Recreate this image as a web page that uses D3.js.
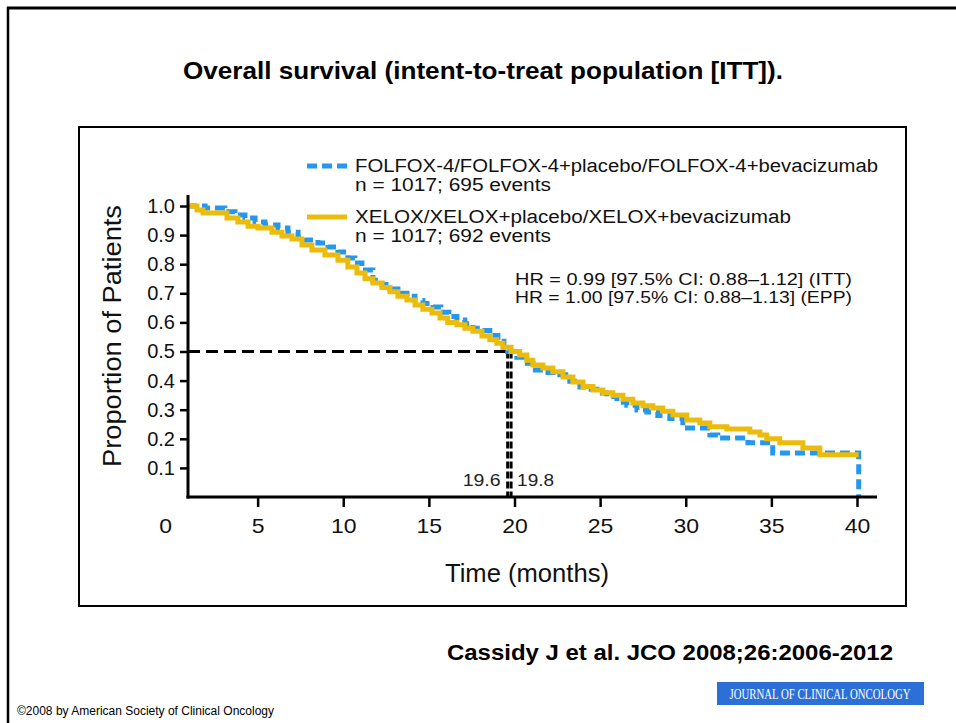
<!DOCTYPE html>
<html>
<head>
<meta charset="utf-8">
<script src="https://cdn.jsdelivr.net/npm/d3@7"></script>
<style>
  body { margin: 0; background: #fff; }
  svg { display: block; }
</style>
</head>
<body>
<svg id="chart" width="956" height="723"></svg>
<script>
// Kaplan-Meier steps: [months, proportion surviving]
var folfoxSteps = [
  [0, 1.0], [1.93, 0.993], [3.09, 0.98], [3.68, 0.969], [4.26, 0.959], [4.85, 0.945],
  [5.43, 0.935], [6.19, 0.924], [6.77, 0.91], [7.36, 0.893], [7.76, 0.883], [8.52, 0.873],
  [9.11, 0.859], [9.69, 0.842], [10.27, 0.821], [10.68, 0.804], [11.09, 0.78], [11.73, 0.745],
  [12.26, 0.73], [12.73, 0.715], [13.19, 0.70], [13.72, 0.69], [14.19, 0.675], [14.65, 0.665],
  [15.24, 0.653], [15.7, 0.635], [16.17, 0.62], [16.64, 0.608], [17.1, 0.595], [17.57, 0.58],
  [18.04, 0.572], [18.56, 0.555], [19.03, 0.535], [19.38, 0.515], [19.6, 0.5], [20.14, 0.48],
  [20.6, 0.46], [21.07, 0.436], [21.78, 0.428], [22.65, 0.42], [23.23, 0.398], [23.82, 0.378],
  [24.28, 0.37], [24.81, 0.357], [25.39, 0.345], [25.98, 0.326], [26.56, 0.315], [27.15, 0.299],
  [27.73, 0.292], [28.37, 0.28], [29.07, 0.27], [29.83, 0.237], [31.41, 0.213], [31.87, 0.203],
  [33.63, 0.186], [35.08, 0.151], [40.1, 0.151], [40.1, 0]
];
var xeloxSteps = [
  [0, 1.0], [1.46, 0.986], [1.81, 0.976], [3.21, 0.959], [3.85, 0.945], [4.44, 0.93],
  [5.02, 0.924], [5.84, 0.91], [6.42, 0.897], [7.01, 0.887], [7.59, 0.866], [8.17, 0.849],
  [8.93, 0.832], [9.69, 0.814], [10.27, 0.79], [10.8, 0.77], [11.27, 0.75], [11.73, 0.735],
  [12.26, 0.72], [12.73, 0.705], [13.19, 0.69], [13.72, 0.677], [14.19, 0.66], [14.65, 0.645],
  [15.18, 0.632], [15.65, 0.615], [16.1, 0.60], [16.64, 0.592], [17.1, 0.58], [17.57, 0.57],
  [18.1, 0.553], [18.56, 0.54], [18.97, 0.528], [19.32, 0.515], [19.8, 0.5], [20.3, 0.488],
  [20.72, 0.47], [21.07, 0.454], [21.66, 0.443], [22.24, 0.43], [22.83, 0.412], [23.41, 0.395],
  [24.0, 0.38], [24.58, 0.368], [25.16, 0.358], [25.74, 0.35], [26.33, 0.336], [26.91, 0.323],
  [27.5, 0.314], [28.08, 0.306], [28.66, 0.295], [29.25, 0.282], [30.06, 0.265], [30.82, 0.254],
  [31.41, 0.241], [32.4, 0.234], [33.74, 0.223], [34.33, 0.213], [34.73, 0.20], [35.49, 0.186],
  [36.84, 0.168], [37.83, 0.145], [40.1, 0.145]
];
var medians = [19.6, 19.8];
var xTicks = [0, 5, 10, 15, 20, 25, 30, 35, 40];
var yTicks = [0.1, 0.2, 0.3, 0.4, 0.5, 0.6, 0.7, 0.8, 0.9, 1.0];
var legendLabels = [
  ["FOLFOX-4/FOLFOX-4+placebo/FOLFOX-4+bevacizumab", "n = 1017; 695 events"],
  ["XELOX/XELOX+placebo/XELOX+bevacizumab", "n = 1017; 692 events"]
];
var hrLabels = [
  "HR = 0.99 [97.5% CI: 0.88\u20131.12] (ITT)",
  "HR = 1.00 [97.5% CI: 0.88\u20131.13] (EPP)"
];

var BLUE = '#2597ee', GOLD = '#ecbc0c';
var SANS = 'Liberation Sans, Arial, Helvetica, sans-serif';

// the source slide is a bit stretched sideways, so long labels get their measured widths
function stretched(sel, width) {
  return sel.attr('textLength', width).attr('lengthAdjust', 'spacingAndGlyphs');
}

var svg = d3.select('#chart');

// page frame (top and left rule only)
svg.append('line').attr('x1', 7).attr('x2', 956).attr('y1', 8).attr('y2', 8)
  .attr('stroke', '#000').attr('stroke-width', 3);
svg.append('line').attr('x1', 8).attr('x2', 8).attr('y1', 7).attr('y2', 723)
  .attr('stroke', '#000').attr('stroke-width', 2.5);

stretched(svg.append('text').attr('x', 183).attr('y', 79)
  .style('font-family', SANS).style('font-weight', 'bold').style('font-size', '24px')
  .text('Overall survival (intent-to-treat population [ITT]).'), 600);

// figure box
svg.append('rect').attr('x', 79).attr('y', 127).attr('width', 827).attr('height', 479)
  .attr('fill', '#fff').attr('stroke', '#000').attr('stroke-width', 2);

var axisLeftX = 188;
var x = d3.scaleLinear().domain([0, 40]).range([172, 857]);
var y = d3.scaleLinear().domain([0, 1]).range([497, 206]);

svg.append('clipPath').attr('id', 'plotclip')
  .append('rect').attr('x', axisLeftX).attr('y', 190).attr('width', 700).attr('height', 320);

var line = d3.line()
  .x(function(d){ return x(d[0]); })
  .y(function(d){ return y(d[1]); })
  .curve(d3.curveStepAfter);

var plot = svg.append('g').attr('clip-path', 'url(#plotclip)');

// median guides
plot.append('line')
  .attr('x1', axisLeftX).attr('x2', x(d3.max(medians))).attr('y1', y(0.5)).attr('y2', y(0.5))
  .attr('stroke', '#000').attr('stroke-width', 3).attr('stroke-dasharray', '12,6');
plot.selectAll('.median').data(medians).enter().append('line')
  .attr('class', 'median')
  .attr('x1', function(d){ return x(d); }).attr('x2', function(d){ return x(d); })
  .attr('y1', y(0.5)).attr('y2', y(0))
  .attr('stroke', '#000').attr('stroke-width', 3).attr('stroke-dasharray', '7,3');

plot.append('path').datum(folfoxSteps).attr('d', line)
  .attr('fill', 'none').attr('stroke', BLUE).attr('stroke-width', 5)
  .attr('stroke-dasharray', '10,5');
plot.append('path').datum(xeloxSteps).attr('d', line)
  .attr('fill', 'none').attr('stroke', GOLD).attr('stroke-width', 5);

// median labels
stretched(svg.append('text').attr('x', x(medians[0]) - 45).attr('y', y(0) - 11)
  .style('font-family', SANS).style('font-size', '17px').attr('fill', '#222')
  .text(medians[0].toFixed(1)), 38);
stretched(svg.append('text').attr('x', x(medians[1]) + 6).attr('y', y(0) - 11)
  .style('font-family', SANS).style('font-size', '17px').attr('fill', '#222')
  .text(medians[1].toFixed(1)), 37);

// axes
var yAxis = svg.append('g').attr('transform', 'translate(' + axisLeftX + ',0)')
  .call(d3.axisLeft(y).tickValues(yTicks).tickFormat(d3.format('.1f')).tickSize(8).tickPadding(5));
var xAxis = svg.append('g').attr('transform', 'translate(0,' + y(0) + ')')
  .call(d3.axisBottom(x).tickValues(xTicks).tickFormat(d3.format('d')).tickSize(10).tickPadding(12));
[yAxis, xAxis].forEach(function(g){
  g.select('.domain').remove();
  g.selectAll('.tick line').attr('stroke', '#000').attr('stroke-width', 2.5);
  g.selectAll('.tick text').attr('fill', '#111').style('font-family', SANS).style('font-size', '20px');
});
xAxis.selectAll('.tick text').attr('transform', 'scale(1.15,1)');
xAxis.selectAll('.tick').filter(function(d){ return d === 0; }).select('line').remove();
xAxis.selectAll('.tick').filter(function(d){ return d === 0; }).select('text').attr('dx', -6);

svg.append('line').attr('x1', axisLeftX).attr('x2', axisLeftX).attr('y1', 195).attr('y2', y(0) + 1.5)
  .attr('stroke', '#000').attr('stroke-width', 3);
svg.append('line').attr('x1', axisLeftX - 1.5).attr('x2', 877).attr('y1', y(0)).attr('y2', y(0))
  .attr('stroke', '#000').attr('stroke-width', 3);

stretched(svg.append('text').attr('transform', 'translate(121,467) rotate(-90)')
  .style('font-family', SANS).style('font-size', '26px').attr('fill', '#111')
  .text('Proportion of Patients'), 262);
stretched(svg.append('text').attr('x', 445).attr('y', 582)
  .style('font-family', SANS).style('font-size', '25px').attr('fill', '#111')
  .text('Time (months)'), 164);

// legend
var legendWidths = [[523, 196], [436, 196]];
var legend = svg.append('g').attr('transform', 'translate(307,166)');
var legendItems = legend.selectAll('g').data(legendLabels).enter().append('g')
  .attr('transform', function(d, i){ return 'translate(0,' + i * 51 + ')'; });
legendItems.append('line').attr('x1', 0).attr('x2', 40).attr('y1', 0).attr('y2', 0)
  .attr('stroke', function(d, i){ return i === 0 ? BLUE : GOLD; })
  .attr('stroke-width', 5)
  .attr('stroke-dasharray', function(d, i){ return i === 0 ? '10,5' : null; });
legendItems.each(function(d, i){
  d3.select(this).selectAll('text').data(d).enter().append('text')
    .attr('x', 48).attr('y', function(t, j){ return 6 + j * 19; })
    .style('font-family', SANS).style('font-size', '18px').attr('fill', '#111')
    .attr('textLength', function(t, j){ return legendWidths[i][j]; })
    .attr('lengthAdjust', 'spacingAndGlyphs')
    .text(function(t){ return t; });
});

svg.selectAll('.hr').data(hrLabels).enter().append('text').attr('class', 'hr')
  .attr('x', 515).attr('y', function(d, i){ return 285 + i * 18; })
  .style('font-family', SANS).style('font-size', '17px').attr('fill', '#111')
  .attr('textLength', 337).attr('lengthAdjust', 'spacingAndGlyphs')
  .text(function(d){ return d; });

// citation and footer
stretched(svg.append('text').attr('x', 447).attr('y', 660)
  .style('font-family', SANS).style('font-weight', 'bold').style('font-size', '22px')
  .text('Cassidy J et al. JCO 2008;26:2006-2012'), 446);
svg.append('rect').attr('x', 717).attr('y', 682).attr('width', 207).attr('height', 23).attr('fill', '#2c6fd6');
svg.append('text').attr('transform', 'translate(820,699) scale(0.72,1)').attr('text-anchor', 'middle')
  .style('font-family', '"Liberation Serif", "Times New Roman", serif').style('font-size', '15px')
  .attr('fill', '#fff')
  .text('JOURNAL OF CLINICAL ONCOLOGY');
stretched(svg.append('text').attr('x', 17).attr('y', 715)
  .style('font-family', SANS).style('font-size', '12px')
  .text('\u00a92008 by American Society of Clinical Oncology'), 257);
</script>
</body>
</html>
